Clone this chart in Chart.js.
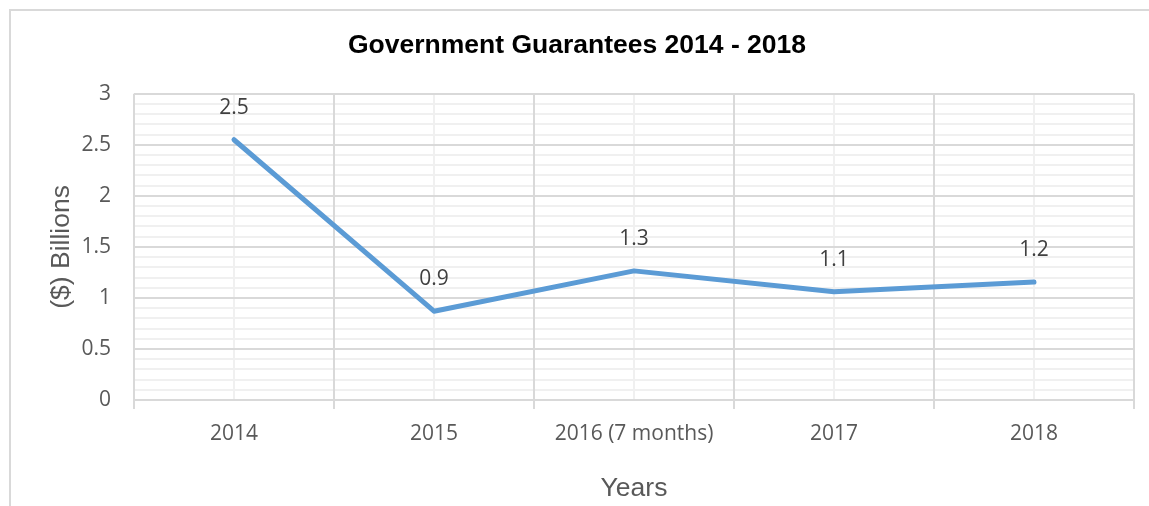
<!DOCTYPE html>
<html>
<head>
<meta charset="utf-8">
<script src="https://cdn.jsdelivr.net/npm/chart.js@4/dist/chart.umd.min.js"></script>
<style>
  html, body { margin: 0; padding: 0; background: #fff; overflow: hidden; }
  #frame {
    position: absolute; left: 9px; top: 9px; width: 1200px; height: 600px;
    border: 2px solid #d9d9d9; box-sizing: border-box;
  }
  #wrap { position: absolute; left: 0; top: 0; width: 1149px; height: 506px; }
</style>
</head>
<body>
<div id="frame"></div>
<div id="wrap"><canvas id="guaranteesChart" width="1149" height="506"></canvas></div>
<script>
const years = ['2014', '2015', '2016 (7 months)', '2017', '2018'];
const guarantees = [2.55, 0.87, 1.265, 1.06, 1.155];   // $ billions

const tickFont = { family: 'Open Sans', size: 21 };
const axisTitleFont = { family: 'Liberation Sans', size: 26.5 };

// writes the rounded value above each point of the line
const valueLabels = {
    id: 'valueLabels',
    afterDatasetsDraw(chart) {
        const c = chart.ctx;
        const meta = chart.getDatasetMeta(0);
        c.save();
        c.font = '21px "Open Sans"';
        c.fillStyle = '#404040';
        c.textAlign = 'center';
        c.textBaseline = 'middle';
        meta.data.forEach((pt, i) => {
            c.fillText(guarantees[i].toFixed(1), pt.x, pt.y - 32);
        });
        c.restore();
    }
};

const ctx = document.getElementById('guaranteesChart').getContext('2d');
new Chart(ctx, {
    type: 'line',
    data: {
        labels: years,
        datasets: [{
            data: guarantees,
            borderColor: '#5b9bd5',
            borderWidth: 5,
            borderCapStyle: 'round',
            borderJoinStyle: 'round',
            pointRadius: 0,
            tension: 0,
            fill: false
        }]
    },
    options: {
        responsive: false,
        animation: false,
        layout: { padding: { left: 20, right: 15, top: 0, bottom: 1 } },
        plugins: {
            legend: { display: false },
            tooltip: { enabled: false },
            title: {
                display: true,
                text: 'Government Guarantees 2014 - 2018',
                color: '#000',
                font: { family: 'Liberation Sans', size: 26.5, weight: 'bold' },
                padding: { top: 30, bottom: 32 }
            }
        },
        scales: {
            // minor grid lines sit underneath the major ones
            yMinor: {
                position: 'left',
                min: 0,
                max: 3,
                z: -2,
                grid: { color: '#f0f0f0', lineWidth: 2, drawTicks: false },
                border: { display: false },
                ticks: { display: false, stepSize: 0.1, autoSkip: false }
            },
            xMinor: {
                type: 'category',
                position: 'bottom',
                offset: true,
                z: -1,
                grid: { offset: false, color: '#f0f0f0', lineWidth: 2, drawTicks: false },
                border: { display: false },
                ticks: { display: false }
            },
            x: {
                type: 'category',
                offset: true,
                grid: { offset: true, color: '#d9d9d9', lineWidth: 2, tickLength: 9 },
                border: { color: '#d9d9d9', width: 2 },
                ticks: { color: '#595959', font: tickFont, padding: 12, maxRotation: 0 },
                title: {
                    display: true, text: 'Years', color: '#595959',
                    font: axisTitleFont,
                    padding: { top: 15, bottom: 0 }
                }
            },
            y: {
                min: 0,
                max: 3,
                afterFit: scale => { scale.width = 114; },
                grid: { color: '#d9d9d9', lineWidth: 2, drawTicks: false },
                border: { display: false },
                ticks: {
                    stepSize: 0.5,
                    color: '#595959',
                    font: tickFont,
                    padding: 23,
                    callback: v => String(v)
                },
                title: {
                    display: true, text: '($) Billions', color: '#595959',
                    font: axisTitleFont,
                    padding: { top: 26, bottom: 4 }
                }
            }
        }
    },
    plugins: [valueLabels]
});
</script>
</body>
</html>
